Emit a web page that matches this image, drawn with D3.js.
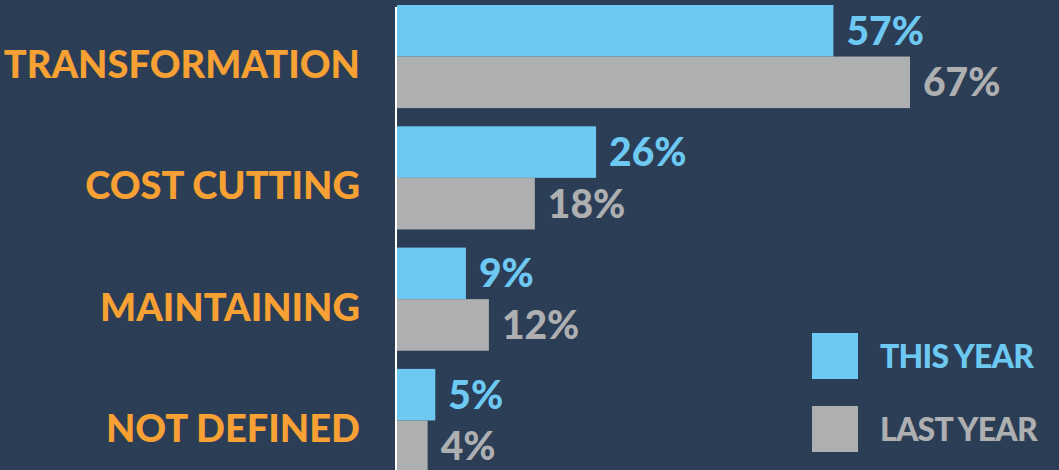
<!DOCTYPE html>
<html>
<head>
<meta charset="utf-8">
<script src="https://cdn.jsdelivr.net/npm/d3@7"></script>
<style>
  html, body { margin: 0; padding: 0; background: #2c3e56; }
  svg { display: block; font-family: Lato, "Open Sans", sans-serif; font-weight: 900; }
</style>
</head>
<body>
<svg id="chart"></svg>
<script>
// data
const categories = ["TRANSFORMATION", "COST CUTTING", "MAINTAINING", "NOT DEFINED"];
const thisYear = [57, 26, 9, 5];
const lastYear = [67, 18, 12, 4];
const seriesNames = ["THIS YEAR", "LAST YEAR"];
const seriesColors = ["#6dc9f2", "#aeafb1"];

const W = 1059, H = 470;
const svg = d3.select("#chart").attr("width", W).attr("height", H);

svg.append("rect").attr("width", W).attr("height", H).attr("fill", "#2c3e56");

const x = d3.scaleLinear([0, 67], [397, 910]);
const y = d3.scaleBand(categories, [5, 472]).paddingInner(0.15);
const ySub = d3.scaleBand(seriesNames, [0, y.bandwidth()]);

const rows = categories.map((c, i) => ({
  cat: c,
  vals: [thisYear[i], lastYear[i]]
}));

const groups = svg.selectAll("g.row")
  .data(rows)
  .join("g")
  .attr("class", "row")
  .attr("transform", d => `translate(0, ${y(d.cat)})`);

groups.selectAll("rect")
  .data(d => d.vals.map((v, j) => ({ v, s: seriesNames[j], c: seriesColors[j] })))
  .join("rect")
  .attr("x", x(0))
  .attr("y", d => ySub(d.s))
  .attr("width", d => x(d.v) - x(0))
  .attr("height", ySub.bandwidth())
  .attr("fill", d => d.c);

groups.selectAll("text.val")
  .data(d => d.vals.map((v, j) => ({ v, s: seriesNames[j], c: seriesColors[j] })))
  .join("text")
  .attr("class", "val")
  .attr("x", d => x(d.v) + 13)
  .attr("y", d => ySub(d.s) + ySub.bandwidth() / 2 + 14)
  .attr("fill", d => d.c)
  .attr("font-size", 39)
  .text(d => d.v + "%");

groups.append("text")
  .attr("x", 360)
  .attr("y", 73)
  .attr("text-anchor", "end")
  .attr("fill", "#f7a033")
  .attr("font-size", 38)
  .text(d => d.cat);

// axis line
svg.append("line")
  .attr("x1", x(0) - 1).attr("x2", x(0) - 1)
  .attr("y1", 7).attr("y2", H)
  .attr("stroke", "#ffffff")
  .attr("stroke-width", 2);

// legend
const legend = svg.selectAll("g.legend")
  .data(seriesNames)
  .join("g")
  .attr("class", "legend")
  .attr("transform", (d, i) => `translate(812, ${333 + i * 73})`);

legend.append("rect")
  .attr("width", 46).attr("height", 46)
  .attr("fill", (d, i) => seriesColors[i]);

legend.append("text")
  .attr("x", 68)
  .attr("y", 35)
  .attr("fill", (d, i) => seriesColors[i])
  .attr("font-size", 32)
  .attr("letter-spacing", -0.8)
  .text(d => d);
</script>
</body>
</html>
